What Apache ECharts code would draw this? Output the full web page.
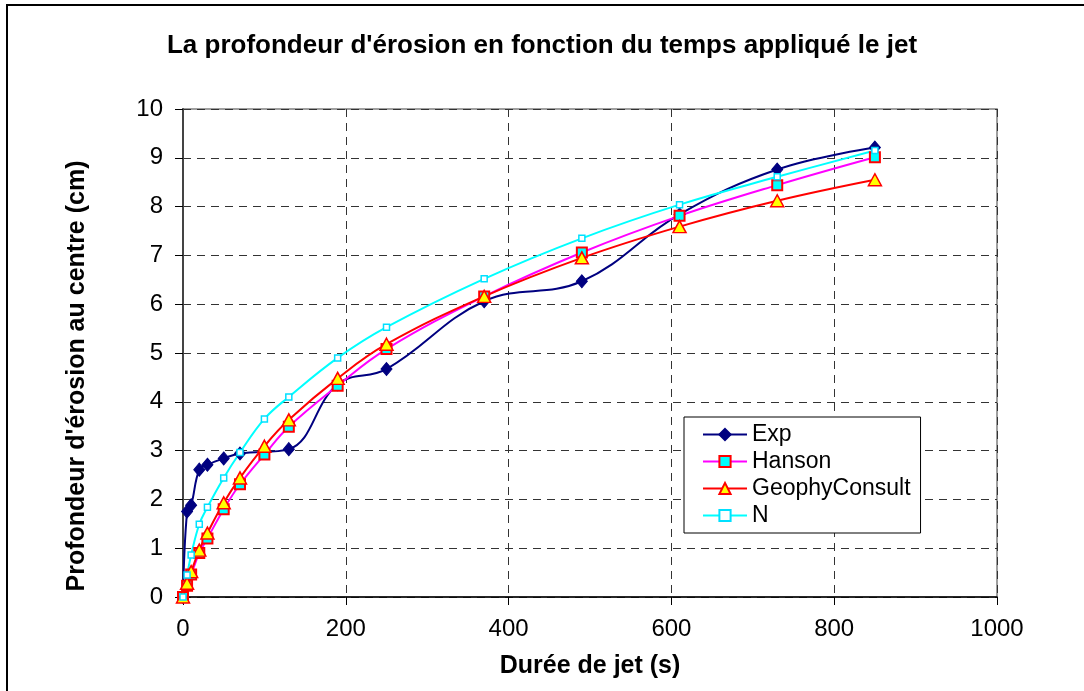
<!DOCTYPE html>
<html>
<head>
<meta charset="utf-8">
<title>Profondeur d'érosion</title>
<style>
    html, body { margin: 0; padding: 0; background: #fff; }
    #chart { width: 1084px; height: 691px; }
</style>
</head>
<body>
<div id="chart"></div>
<script src="https://cdn.jsdelivr.net/npm/echarts@6/dist/echarts.min.js"></script>
<script type="text/javascript">
    // durées (s) et profondeurs (cm)
    var expX = [0, 5, 10, 20, 30, 50, 70, 130, 190, 250, 370, 490, 610, 730, 850];
    var expY = [0, 1.75, 1.88, 2.61, 2.71, 2.84, 2.94, 3.03, 4.36, 4.67, 6.06, 6.47, 7.84, 8.76, 9.21];

    var modelX = [0, 5, 10, 20, 30, 50, 70, 100, 130, 190, 250, 370, 490, 610, 730, 850];
    var hansonY = [0, 0.23, 0.46, 0.90, 1.20, 1.80, 2.31, 2.92, 3.49, 4.33, 5.08, 6.16, 7.06, 7.81, 8.44, 9.01];
    var geophyY = [0, 0.28, 0.52, 0.96, 1.31, 1.93, 2.44, 3.09, 3.63, 4.48, 5.18, 6.16, 6.95, 7.59, 8.12, 8.55];
    var nY = [0, 0.45, 0.86, 1.49, 1.84, 2.44, 2.96, 3.65, 4.10, 4.90, 5.53, 6.52, 7.35, 8.04, 8.61, 9.15];

    var seriesNames = ['Exp', 'Hanson', 'GeophyConsult', 'N'];

    function pairs(xs, ys) {
        var out = [];
        for (var i = 0; i < xs.length; i++) out.push([xs[i], ys[i]]);
        return out;
    }

    var font = '"Liberation Sans", Arial, sans-serif';
    var myChart = echarts.init(document.getElementById('chart'));
    var option = {
        backgroundColor: '#fff',
        animation: false,
        textStyle: { fontFamily: font, color: '#000' },
        graphic: [{
            type: 'rect',
            shape: { x: 7, y: 5, width: 1100, height: 720 },
            style: { fill: 'none', stroke: '#000', lineWidth: 2 },
            silent: true
        }],
        title: {
            text: "La profondeur d'érosion en fonction du temps appliqué le jet",
            left: 'center',
            top: 33,
            padding: 0,
            textStyle: { fontFamily: font, fontSize: 26, fontWeight: 'bold', color: '#000' }
        },
        legend: {
            data: seriesNames,
            orient: 'vertical',
            left: 684,
            top: 417,
            padding: [6, 10, 6, 18],
            itemWidth: 44,
            itemHeight: 14,
            itemGap: 4,
            backgroundColor: '#fff',
            borderColor: '#000',
            borderWidth: 1,
            textStyle: { fontFamily: font, fontSize: 23, color: '#000' }
        },
        grid: {
            left: 183, right: 87, top: 109, bottom: 94,
            show: true, borderColor: '#808080', borderWidth: 1.5,
            containLabel: false
        },
        xAxis: {
            type: 'value',
            min: 0, max: 1000, interval: 200,
            name: 'Durée de jet (s)',
            nameLocation: 'middle',
            nameGap: 57,
            nameTextStyle: { fontFamily: font, fontSize: 25, fontWeight: 'bold', color: '#000' },
            axisLine: { show: true, onZero: false, lineStyle: { color: '#000', width: 1.5 } },
            axisTick: { show: true, inside: false, length: 8, lineStyle: { color: '#000' } },
            axisLabel: {
                fontFamily: font, fontSize: 24, color: '#000', margin: 20,
                formatter: function (v) { return String(v); }
            },
            splitLine: { show: true, lineStyle: { color: '#333', type: [8, 6], width: 1 } }
        },
        yAxis: {
            type: 'value',
            min: 0, max: 10, interval: 1,
            name: "Profondeur d'érosion au centre (cm)",
            nameLocation: 'middle',
            nameGap: 93,
            nameTextStyle: {
                fontFamily: font, fontSize: 25, fontWeight: 'bold', color: '#000',
                padding: [0, 46, 0, 0]
            },
            axisLine: { show: true, lineStyle: { color: '#444', width: 2 } },
            axisTick: { show: true, inside: false, length: 8, lineStyle: { color: '#000' } },
            axisLabel: { fontFamily: font, fontSize: 24, color: '#000', margin: 20 },
            splitLine: { show: true, lineStyle: { color: '#333', type: [8, 6], width: 1 } }
        },
        series: [
            {
                name: 'Exp', type: 'line', smooth: 0.4,
                data: pairs(expX, expY),
                symbol: 'diamond', symbolSize: [11, 13],
                lineStyle: { color: '#000080', width: 2 },
                itemStyle: { color: '#000080', borderColor: '#000080', borderWidth: 1 }
            },
            {
                name: 'Hanson', type: 'line', smooth: 0.4,
                data: pairs(modelX, hansonY),
                symbol: 'rect', symbolSize: 10,
                lineStyle: { color: '#ff00ff', width: 2 },
                itemStyle: { color: '#00ffff', borderColor: '#ff0000', borderWidth: 2 }
            },
            {
                name: 'GeophyConsult', type: 'line', smooth: 0.4,
                data: pairs(modelX, geophyY),
                symbol: 'triangle', symbolSize: [13, 12],
                lineStyle: { color: '#ff0000', width: 2 },
                itemStyle: { color: '#ffff00', borderColor: '#ff0000', borderWidth: 1.5 }
            },
            {
                name: 'N', type: 'line', smooth: 0.4,
                data: pairs(modelX, nY),
                symbol: 'rect', symbolSize: 6,
                lineStyle: { color: '#00ffff', width: 2 },
                itemStyle: { color: '#ffffff', borderColor: '#00e0ff', borderWidth: 1.5 }
            }
        ]
    };
    myChart.setOption(option);
</script>
</body>
</html>
